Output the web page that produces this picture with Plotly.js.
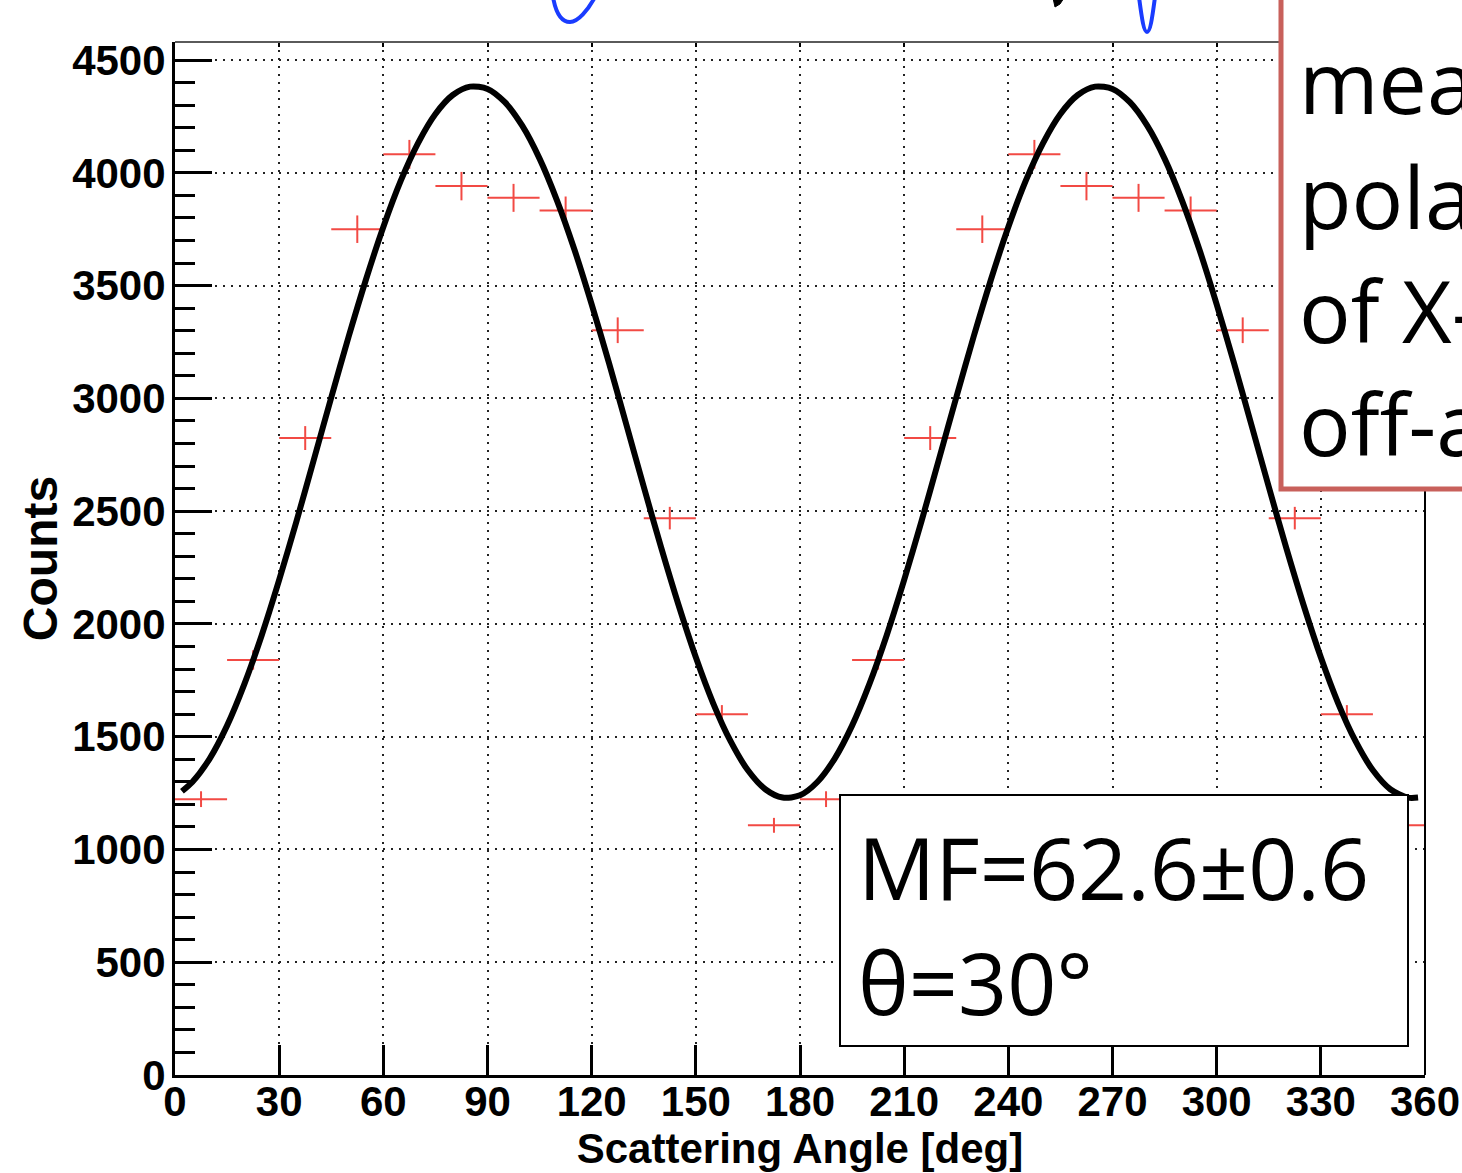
<!DOCTYPE html>
<html><head><meta charset="utf-8">
<script src="https://cdn.plot.ly/plotly-3.0.1.min.js"></script>
<style>html,body{margin:0;padding:0;background:#fff;overflow:hidden}#chart{width:1462px;height:1173px}</style>
</head><body><div id="chart"></div>
<script>
// ---- data ----
const binCenters = [7.5, 22.5, 37.5, 52.5, 67.5, 82.5, 97.5, 112.5, 127.5, 142.5, 157.5, 172.5,
                    187.5, 202.5, 217.5, 232.5, 247.5, 262.5, 277.5, 292.5, 307.5, 322.5, 337.5, 352.5];
const counts = [1223, 1840, 2824, 3750, 4082, 3941, 3889, 3833, 3302, 2469, 1600, 1107,
                1223, 1840, 2824, 3750, 4082, 3941, 3889, 3833, 3302, 2469, 1600, 1107];
const countErrors = [35, 43, 53, 61, 64, 63, 62, 62, 57, 50, 40, 33,
                     35, 43, 53, 61, 64, 63, 62, 62, 57, 50, 40, 33];
const binHalfWidth = 7.5;

const fitAngles = [2, 5, 10, 15, 20, 25, 30, 35, 40, 45, 50, 55, 60, 65, 70, 75, 80, 85, 90,
                   95, 100, 105, 110, 115, 120, 125, 130, 135, 140, 145, 150, 155, 160, 165, 170, 175, 180,
                   185, 190, 195, 200, 205, 210, 215, 220, 225, 230, 235, 240, 245, 250, 255, 260, 265, 270,
                   275, 280, 285, 290, 295, 300, 305, 310, 315, 320, 325, 330, 335, 340, 345, 350, 355, 358];
const fitCounts = [1258, 1299, 1403, 1549, 1734, 1951, 2195, 2456, 2729, 3004, 3273, 3527, 3760, 3964, 4132, 4261, 4345, 4382, 4372,
                   4313, 4209, 4063, 3878, 3661, 3417, 3156, 2883, 2608, 2339, 2085, 1852, 1648, 1480, 1351, 1267, 1230, 1240,
                   1299, 1403, 1549, 1734, 1951, 2195, 2456, 2729, 3004, 3273, 3527, 3760, 3964, 4132, 4261, 4345, 4382, 4372,
                   4313, 4209, 4063, 3878, 3661, 3417, 3156, 2883, 2608, 2339, 2085, 1852, 1648, 1480, 1351, 1267, 1230, 1230];

const xTickVals = [0, 30, 60, 90, 120, 150, 180, 210, 240, 270, 300, 330, 360];
const xTickText = ['0', '30', '60', '90', '120', '150', '180', '210', '240', '270', '300', '330', '360'];
const yTickVals = [0, 500, 1000, 1500, 2000, 2500, 3000, 3500, 4000, 4500];
const yTickText = ['0', '500', '1000', '1500', '2000', '2500', '3000', '3500', '4000', '4500'];

const xTitle = 'Scattering Angle [deg]';
const yTitle = 'Counts';
const mfText = 'MF=62.6±0.6';
const thetaText = 'θ=30°';
const sideNoteLines = ['measured', 'polarization', 'of X-rays', 'off-axis'];

// ---- layout geometry (pixels) ----
const W = 1462, H = 1173, L = 175, R = 37, T = 42, B = 98;
const pw = W - L - R, ph = H - T - B;
const px = x => (x - L) / pw;
const py = y => (H - B - y) / ph;

const boldFamily = '"Liberation Sans", Arial, Helvetica, sans-serif';
const tickFont = {family: boldFamily, size: 42, weight: 'bold', color: '#000'};
const slideFont = {family: '"Open Sans", "Noto Sans", sans-serif', size: 86, color: '#000'};
const redCross = '#f24a44';
const blueInk = '#1a3cff';

const traces = [
  {
    type: 'scatter', mode: 'markers', x: binCenters, y: counts,
    marker: {size: 1, color: 'rgba(0,0,0,0)'},
    error_x: {type: 'constant', value: binHalfWidth, color: redCross, thickness: 2, width: 0},
    error_y: {type: 'data', array: countErrors, color: redCross, thickness: 2, width: 0},
    hoverinfo: 'skip', showlegend: false
  },
  {
    type: 'scatter', mode: 'lines', x: fitAngles, y: fitCounts,
    line: {color: '#000', width: 6, shape: 'spline', smoothing: 0.8},
    hoverinfo: 'skip', showlegend: false
  },
  { type: 'scatter', mode: 'none', x: [], y: [], xaxis: 'x2', yaxis: 'y', showlegend: false, hoverinfo: 'skip' }
];

// SVG path in paper units from pixel points; each command written explicitly
function seg(cmd, pts) {
  return cmd + ' ' + pts.map((v, i) => (i % 2 === 0 ? px(v) : py(v)).toFixed(5)).join(',');
}

const shapes = [
  // top & right frame lines
  {type: 'line', xref: 'paper', yref: 'paper', x0: 0, x1: 1, y0: 1, y1: 1, line: {color: '#5a5a5a', width: 2}},
  {type: 'line', xref: 'paper', yref: 'paper', x0: 1, x1: 1, y0: 0, y1: 1, line: {color: '#000', width: 2}},
  // red slide box (top right)
  {type: 'rect', xref: 'paper', yref: 'paper', x0: px(1281), x1: px(1620), y0: py(489), y1: py(-30),
   line: {color: '#c8605b', width: 5}, fillcolor: '#fff'},
  // MF box
  {type: 'rect', xref: 'paper', yref: 'paper', x0: px(840), x1: px(1408), y0: py(1046), y1: py(795),
   line: {color: '#000', width: 2}, fillcolor: '#fff'},
  // fragments of the slide drawing above the chart
  {type: 'path', xref: 'paper', yref: 'paper',
   path: seg('M', [553, -3]) + ' ' + seg('C', [556, 14, 562, 22, 570, 22]) + ' ' + seg('C', [578, 22, 588, 10, 595, -3]),
   line: {color: blueInk, width: 4}},
  {type: 'path', xref: 'paper', yref: 'paper',
   path: seg('M', [1139, -3]) + ' ' + seg('C', [1142, 20, 1144, 32, 1147, 32]) + ' ' + seg('C', [1150, 32, 1152, 20, 1155, -3]),
   line: {color: blueInk, width: 4}},
  {type: 'path', xref: 'paper', yref: 'paper',
   path: seg('M', [1053, -2]) + ' ' + seg('L', [1064, -2]) + ' ' + seg('L', [1060, 4]) + ' ' + seg('L', [1055, 7]) + ' Z',
   line: {color: '#000', width: 1}, fillcolor: '#000'}
];

const annotations = [
  {xref: 'paper', yref: 'paper', x: px(856), y: py(866), xanchor: 'left', yanchor: 'middle',
   text: mfText, showarrow: false, font: slideFont},
  {xref: 'paper', yref: 'paper', x: px(856), y: py(981), xanchor: 'left', yanchor: 'middle',
   text: thetaText, showarrow: false, font: slideFont}
];
const sideBaselines = [113, 228, 342, 455];
sideNoteLines.forEach((t, i) => {
  annotations.push({xref: 'paper', yref: 'paper', x: px(1297), y: py(sideBaselines[i] - 33), xanchor: 'left', yanchor: 'middle',
    text: t, showarrow: false, font: slideFont});
});

const layout = {
  width: W, height: H,
  margin: {l: L, r: R, t: T, b: B, pad: 0},
  paper_bgcolor: '#fff', plot_bgcolor: '#fff',
  showlegend: false,
  xaxis: {
    range: [0, 360], tickmode: 'array', tickvals: xTickVals, ticktext: xTickText,
    ticks: 'inside', ticklen: 30, tickwidth: 3, tickcolor: '#000',
    showline: true, linewidth: 3, linecolor: '#000', mirror: false,
    showgrid: true, gridcolor: '#222', gridwidth: 2, griddash: '2px,6px',
    zeroline: false, tickfont: tickFont, ticklabelstandoff: -12, ticklabeloverflow: 'allow',
    title: {text: xTitle, font: {family: boldFamily, size: 42, weight: 'bold', color: '#000'}, standoff: 9},
    fixedrange: true
  },
  xaxis2: {
    overlaying: 'x', side: 'top', range: [0, 360], tickmode: 'array', tickvals: xTickVals,
    ticks: 'inside', ticklen: 5, tickwidth: 2, tickcolor: '#000',
    showticklabels: false, showgrid: false, showline: false, zeroline: false, fixedrange: true
  },
  yaxis: {
    range: [0, 4580], tickmode: 'array', tickvals: yTickVals, ticktext: yTickText,
    ticks: 'inside', ticklen: 37, tickwidth: 3, tickcolor: '#000',
    minor: {ticks: 'inside', ticklen: 20, tickwidth: 3, tickcolor: '#000', dtick: 100, tick0: 0, showgrid: false},
    showline: true, linewidth: 3, linecolor: '#000', mirror: false,
    showgrid: true, gridcolor: '#222', gridwidth: 2, griddash: '2px,6px',
    zeroline: false, tickfont: tickFont, ticklabelstandoff: -2, ticklabeloverflow: 'allow',
    title: {text: yTitle, font: {family: boldFamily, size: 48, weight: 'bold', color: '#000'}, standoff: 0},
    fixedrange: true
  },
  shapes: shapes,
  annotations: annotations
};

Plotly.newPlot('chart', traces, layout, {displayModeBar: false, staticPlot: true});
</script>
</body></html>
